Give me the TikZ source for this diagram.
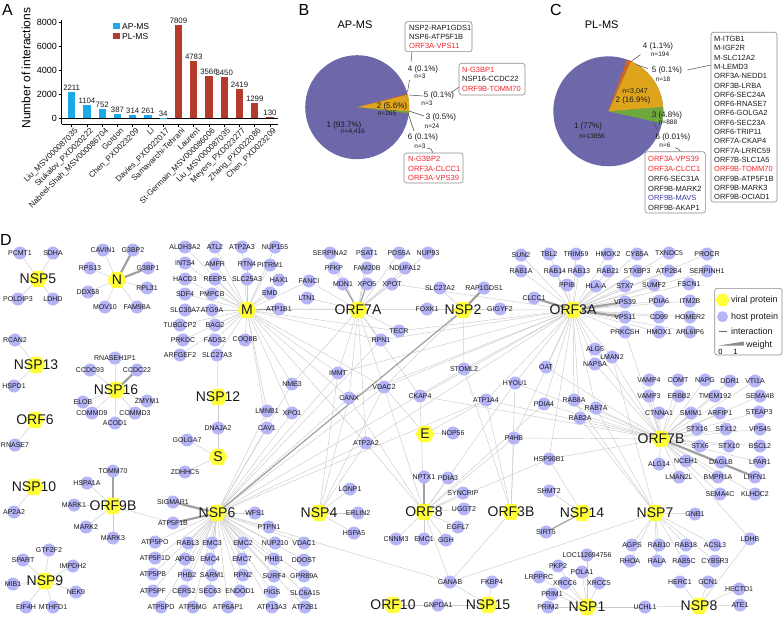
\documentclass[tikz,border=0pt]{standalone}
\usepackage{fontspec}
\setmainfont{Liberation Sans}
\usetikzlibrary{shapes.geometric}
\pgfdeclarelayer{bg}
\pgfsetlayers{bg,main}
\definecolor{hostc}{HTML}{B4B4F6}
\definecolor{virc}{HTML}{FFFF3A}
\definecolor{edgec}{HTML}{CBCBCB}
\definecolor{wedgec}{HTML}{A0A0A0}
\definecolor{apc}{HTML}{1CA9EA}
\definecolor{plc}{HTML}{B43B2D}
\definecolor{pieA}{HTML}{6C68AA}
\definecolor{pieB}{HTML}{DEA51C}
\definecolor{pieC}{HTML}{6DA83C}
\definecolor{pieD}{HTML}{D4631D}
\definecolor{redt}{HTML}{F0262C}
\definecolor{bluet}{HTML}{3B3BA6}
\definecolor{boxc}{HTML}{8A8A8A}
\definecolor{txt}{HTML}{1A1A1A}
\tikzset{
 host/.style={circle,fill=hostc,minimum size=13pt,inner sep=0pt},
 hlab/.style={font=\fontsize{7}{8}\selectfont,inner sep=0pt,text=txt},
 vir/.style={regular polygon,regular polygon sides=6,fill=virc,minimum size=19pt,inner sep=0pt},
 vlab/.style={font=\fontsize{14}{16}\selectfont,inner sep=0pt,text=txt},
 ed/.style={draw=edgec,line width=0.45pt},
 wd/.style={draw=wedgec,line width=2.2pt},
 md/.style={draw=wedgec,line width=1.2pt},
 panel/.style={font=\fontsize{16}{18}\selectfont,inner sep=0pt},
 axisl/.style={draw=black,line width=0.8pt},
 ticklab/.style={font=\fontsize{9}{10}\selectfont,anchor=east,inner sep=0pt},
 vallab/.style={font=\fontsize{7.8}{9}\selectfont,anchor=south,inner sep=1.2pt,text=txt},
 xlab/.style={font=\fontsize{8}{9}\selectfont,rotate=45,anchor=north east,inner sep=0.5pt,text=txt},
 pct/.style={font=\fontsize{8}{9}\selectfont,inner sep=0pt,text=txt},
 ncount/.style={font=\fontsize{6.5}{7}\selectfont,inner sep=0pt,text=txt},
 ptitle/.style={font=\fontsize{11}{12}\selectfont,inner sep=0pt},
 lbox/.style={draw=boxc,line width=0.6pt,rounded corners=2.5pt},
 btxt/.style={font=\fontsize{7.5}{8}\selectfont,anchor=west,inner sep=0pt,text=txt},
 lead/.style={draw=black!70,line width=0.5pt},
 legt/.style={font=\fontsize{9}{10}\selectfont,anchor=west,inner sep=0pt,text=txt},
}
\newcommand\hostnode[3]{\node[host,label={[hlab]center:#3}] (#1) at (#2) {};}
\newcommand\virnode[3]{\node[vir] (#1) at (#2) {}; \node[vlab] (#1t) at (#2) {#3};}
\newcommand\hubedges[2]{\foreach \hh in {#2} {\draw[ed] (#1.center) -- (\hh.center);}}
\begin{document}
\begin{tikzpicture}[x=1pt,y=-1pt]
\useasboundingbox (0,0) rectangle (784,618);
% ================= Panel A =================
\node[panel] (pA) at (7.5,9.5) {A};
\draw[axisl] (61.7,20) -- (61.7,124);
\draw[draw=black,line width=0.6pt] (61.7,118.3) -- (278,118.3);
\draw[axisl] (61.7,124) -- (278,124);
\foreach \t [count=\k] in {0,2000,4000,6000,8000}{
  \pgfmathsetmacro\ty{118.3-0.012*\t}
  \draw[axisl] (58.5,\ty) -- (61.7,\ty);
  \node[ticklab] (tk\k) at (57,\ty) {\t};
}
\node[font=\fontsize{12}{13}\selectfont,rotate=90,inner sep=0pt] (ylab) at (26,68) {Number of interactions};
\foreach \v/\nm/\cl [count=\i] in {2211/Liu\_MSV000087035/apc,1104/Stukalov\_PXD020222/apc,752/Nabeel-Shah\_MSV000086704/apc,387/Gordon/apc,314/Chen\_PXD023209/apc,261/Li/apc,34/Davies\_PXD022017/apc,7809/Samavarchi-Tehrani/plc,4783/Laurent/plc,3566/St-Germain\_MSV000086006/plc,3450/Liu\_MSV000087035/plc,2419/Meyers\_PXD023277/plc,1299/Zhang\_PXD022086/plc,130/Chen\_PXD023209/plc}{
  \pgfmathsetmacro\cx{71.7+15.25*(\i-1)}
  \pgfmathsetmacro\bt{118.3-0.012*\v}
  \fill[\cl] (\cx-3.6,118.3) rectangle (\cx+3.6,\bt);
  \node[vallab] (val\i) at (\cx,\bt) {\v};
  \draw[axisl] (\cx,124) -- (\cx,127);
  \node[xlab] (xl\i) at (\cx+2.5,126.5) {\nm};
}
\fill[apc] (113,23) rectangle (120,29.5);
\node[font=\fontsize{8.5}{9}\selectfont,anchor=west,inner sep=0pt] (lgap) at (122,26.5) {AP-MS};
\fill[plc] (113,33) rectangle (120,39.5);
\node[font=\fontsize{8.5}{9}\selectfont,anchor=west,inner sep=0pt] (lgpl) at (122,36.5) {PL-MS};
% ================= Panel B =================
\node[panel] (pB) at (304,9.5) {B};
\node[ptitle] (tB) at (355,25) {AP-MS};
\coordinate (bpc) at (357.2,107.2);
\fill[pieA] (bpc) circle (52);
\fill[pieB] (bpc) -- ++(4.8:52) arc[start angle=4.8,end angle=-14.1,radius=52] -- cycle;
\fill[pieC] (bpc) -- ++(6.6:52) arc[start angle=6.6,end angle=4.8,radius=52] -- cycle;
\fill[pieD] (bpc) -- ++(-14.1:52) arc[start angle=-14.1,end angle=-14.9,radius=52] -- cycle;
\fill[pieD!50!pieC] (bpc) -- ++(7.0:52) arc[start angle=7.0,end angle=6.6,radius=52] -- cycle;
\node[pct] (b2) at (392,106.5) {2 (5.6\%)};
\node[ncount] (b2n) at (387,113) {n=265};
\node[pct] (b1) at (344,125) {1 (93.7\%)};
\node[ncount] (b1n) at (353,131.7) {n=4,416};
\node[pct] (b4) at (423,69) {4 (0.1\%)};
\node[ncount] (b4n) at (420,76) {n=3};
\node[pct] (b5) at (439,95) {5 (0.1\%)};
\node[ncount] (b5n) at (427,103) {n=3};
\node[pct] (b3) at (441,117) {3 (0.5\%)};
\node[ncount] (b3n) at (432,126) {n=24};
\node[pct] (b6) at (423,137) {6 (0.1\%)};
\node[ncount] (b6n) at (420,146) {n=3};
\draw[lead] (407.5,92) -- (409.5,80);
\draw[lead] (412,52) -- (411,62);
\draw[lead] (409,95) -- (423,96);
\draw[lead] (451,93) -- (459,87);
\draw[lead] (409,111) -- (424,116);
\draw[lead] (408,113) -- (414,131);
\draw[lead] (427,148) -- (431,149) -- (433,153);
\draw[lbox] (405,21.7) rectangle (472,51.7);
\node[btxt] (b4a) at (409,27.7) {NSP2-RAP1GDS1};
\node[btxt] (b4b) at (409,37) {NSP6-ATP5F1B};
\node[btxt,text=redt] (b4c) at (409,46.3) {ORF3A-VPS11};
\draw[lbox] (459,63.3) rectangle (525,95);
\node[btxt,text=redt] (b5a) at (462,70) {N-G3BP1};
\node[btxt] (b5b) at (462,79.3) {NSP16-CCDC22};
\node[btxt,text=redt] (b5c) at (462,88.5) {ORF9B-TOMM70};
\draw[lbox] (404,153) rectangle (463,183);
\node[btxt,text=redt] (b6a) at (408,159) {N-G3BP2};
\node[btxt,text=redt] (b6b) at (408,168.5) {ORF3A-CLCC1};
\node[btxt,text=redt] (b6c) at (408,178) {ORF3A-VPS39};
% ================= Panel C =================
\node[panel] (pC) at (556,9.5) {C};
\node[ptitle] (tC) at (601.7,25) {PL-MS};
\coordinate (cpc) at (608.3,111.3);
\fill[pieA] (cpc) circle (55);
\fill[pieC] (cpc) -- ++(12.6:55) arc[start angle=12.6,end angle=-4.7,radius=55] -- cycle;
\fill[pieB] (cpc) -- ++(-4.7:55) arc[start angle=-4.7,end angle=-65.7,radius=55] -- cycle;
\fill[pieD] (cpc) -- ++(-66.1:55) arc[start angle=-66.1,end angle=-70.1,radius=55] -- cycle;
\node[pct] (c4) at (658,46.7) {4 (1.1\%)};
\node[ncount] (c4n) at (660,54.3) {n=194};
\node[pct] (c5) at (667,70) {5 (0.1\%)};
\node[ncount] (c5n) at (663,79) {n=18};
\node[ncount,font=\fontsize{7}{8}\selectfont] (c2n) at (635,91.7) {n=3,047};
\node[pct] (c2) at (633,100) {2 (16.9\%)};
\node[pct] (c3) at (667,115) {3 (4.8\%)};
\node[ncount] (c3n) at (668,122.7) {n=888};
\node[pct] (c1) at (588,126) {1 (77\%)};
\node[ncount] (c1n) at (592,136.7) {n=13856};
\node[pct] (c6) at (673,137.7) {6 (0.01\%)};
\node[ncount] (c6n) at (665,145.7) {n=6};
\draw[lead] (630.5,62) -- (640.5,54.5);
\draw[lead] (636,64.5) -- (647.5,68.5);
\draw[lead] (687.5,70) -- (711,65);
\draw[lead] (654,123) -- (657.5,130.5);
\draw[lead] (675,147.5) -- (679,149.5) -- (680.5,151.7);
\draw[lbox] (711,32.3) rectangle (777,202);
\foreach \t/\c [count=\i] in {M-ITGB1/txt,M-IGF2R/txt,M-SLC12A2/txt,M-LEMD3/txt,ORF3A-NEDD1/txt,ORF3B-LRBA/txt,ORF6-SEC24A/txt,ORF6-RNASE7/txt,ORF6-GOLGA2/txt,ORF6-SEC23A/txt,ORF6-TRIP11/txt,ORF7A-CKAP4/txt,ORF7A-LRRC59/txt,ORF7B-SLC1A5/txt,ORF9B-TOMM70/redt,ORF9B-ATP5F1B/txt,ORF9B-MARK3/txt,ORF9B-OCIAD1/txt}{
  \node[btxt,text=\c] (cf\i) at (714,{39+9.3*(\i-1)}) {\t};
}
\draw[lbox] (645,151.7) rectangle (705.3,213);
\foreach \t/\c [count=\i] in {ORF3A-VPS39/redt,ORF3A-CLCC1/redt,ORF6-SEC31A/txt,ORF9B-MARK2/txt,ORF9B-MAVS/bluet,ORF9B-AKAP1/txt}{
  \node[btxt,text=\c] (cs\i) at (648,{159+9.85*(\i-1)}) {\t};
}
% ================= Panel D =================
\node[panel] (pD) at (6,240) {D};
% --- host proteins
\hostnode{pcmt1}{20,253}{PCMT1}
\hostnode{sdha}{53,253}{SDHA}
\hostnode{poldip3}{18,299}{POLDIP3}
\hostnode{ldhd}{53,299}{LDHD}
\hostnode{cavin1}{103,250}{CAVIN1}
\hostnode{gbptwo}{133,250}{G3BP2}
\hostnode{gbpone}{148,268}{G3BP1}
\hostnode{rps13}{90,268}{RPS13}
\hostnode{rpl31}{147,288}{RPL31}
\hostnode{ddx58}{88,292}{DDX58}
\hostnode{mov10}{105,307}{MOV10}
\hostnode{fam98a}{137,307}{FAM98A}
\hostnode{aldh3a2}{185,247}{ALDH3A2}
\hostnode{atl2}{215,247}{ATL2}
\hostnode{atp2a3}{242,247}{ATP2A3}
\hostnode{nup155}{275,247}{NUP155}
\hostnode{ints4}{185,263}{INTS4}
\hostnode{amfr}{215,264}{AMFR}
\hostnode{rtn4}{247,264}{RTN4}
\hostnode{pitrm1}{270,265}{PITRM1}
\hostnode{hacd3}{185,279}{HACD3}
\hostnode{reep5}{215,279}{REEP5}
\hostnode{slc25a3}{247,279}{SLC25A3}
\hostnode{hax1}{279,280}{HAX1}
\hostnode{sdf4}{185,294}{SDF4}
\hostnode{pmpcb}{212,294}{PMPCB}
\hostnode{emd}{270,293}{EMD}
\hostnode{slc30a7}{185,310}{SLC30A7}
\hostnode{atg9a}{212,310}{ATG9A}
\hostnode{atp1b1}{279,309}{ATP1B1}
\hostnode{tubgcp2}{180,325}{TUBGCP2}
\hostnode{bag2}{215,325}{BAG2}
\hostnode{prkdc}{183,340}{PRKDC}
\hostnode{fads2}{215,340}{FADS2}
\hostnode{coq8b}{245,340}{COQ8B}
\hostnode{arfgef2}{180,355}{ARFGEF2}
\hostnode{slc27a3}{217,355}{SLC27A3}
\hostnode{serpina2}{330,253}{SERPINA2}
\hostnode{psat1}{367,253}{PSAT1}
\hostnode{pds5a}{399,253}{PDS5A}
\hostnode{nup93}{428,253}{NUP93}
\hostnode{pfkp}{334,268}{PFKP}
\hostnode{fam20b}{367,268}{FAM20B}
\hostnode{ndufa12}{405,268}{NDUFA12}
\hostnode{fanci}{309,281}{FANCI}
\hostnode{mdn1}{343,284}{MDN1}
\hostnode{xpo5}{367,284}{XPO5}
\hostnode{xpot}{392,284}{XPOT}
\hostnode{ltn1}{307,298}{LTN1}
\hostnode{tecr}{399,331}{TECR}
\hostnode{slc27a2}{440,288}{SLC27A2}
\hostnode{rap1gds1}{484,288}{RAP1GDS1}
\hostnode{foxk1}{427,309}{FOXK1}
\hostnode{gigyf2}{500,309}{GIGYF2}
\hostnode{sun2}{521,255}{SUN2}
\hostnode{tbl2}{549,254}{TBL2}
\hostnode{trim59}{576,254}{TRIM59}
\hostnode{hmox2}{608,254}{HMOX2}
\hostnode{cyb5a}{637,254}{CYB5A}
\hostnode{txndc5}{669,253}{TXNDC5}
\hostnode{procr}{707,254}{PROCR}
\hostnode{rab1a}{521,271}{RAB1A}
\hostnode{rab14}{555,271}{RAB14}
\hostnode{rab13}{579,271}{RAB13}
\hostnode{rab21}{608,271}{RAB21}
\hostnode{stxbp3}{637,271}{STXBP3}
\hostnode{atp2b4}{669,271}{ATP2B4}
\hostnode{serpinh1}{707,271}{SERPINH1}
\hostnode{ppib}{567,285}{PPIB}
\hostnode{hlaa}{596,286}{HLA-A}
\hostnode{stx7}{625,286}{STX7}
\hostnode{sumf2}{654,285}{SUMF2}
\hostnode{fscn1}{689,284}{FSCN1}
\hostnode{clcc1}{534,298}{CLCC1}
\hostnode{vps39}{625,302}{VPS39}
\hostnode{pdia6}{659,301}{PDIA6}
\hostnode{itm2b}{690,301}{ITM2B}
\hostnode{vps11}{625,317}{VPS11}
\hostnode{cd99}{659,317}{CD99}
\hostnode{homer2}{690,317}{HOMER2}
\hostnode{prkcsh}{625,332}{PRKCSH}
\hostnode{hmox1}{659,332}{HMOX1}
\hostnode{arl6ip6}{690,332}{ARL6IP6}
\hostnode{rpn1}{381,340}{RPN1}
\hostnode{immt}{338,373}{IMMT}
\hostnode{stoml2}{464,369}{STOML2}
\hostnode{nme3}{292,384}{NME3}
\hostnode{vdac2}{384,387}{VDAC2}
\hostnode{hyou1}{515,383}{HYOU1}
\hostnode{ckap4}{420,396}{CKAP4}
\hostnode{atp1a4}{486,400}{ATP1A4}
\hostnode{canx}{349,398}{CANX}
\hostnode{lmnb1}{267,411}{LMNB1}
\hostnode{xpo1}{292,413}{XPO1}
\hostnode{cav1}{267,428}{CAV1}
\hostnode{nop56}{453,433}{NOP56}
\hostnode{p4hb}{514,438}{P4HB}
\hostnode{atp2a2}{366,443}{ATP2A2}
\hostnode{alg5}{595,349}{ALG5}
\hostnode{lman2}{612,357}{LMAN2}
\hostnode{napsa}{595,364}{NAPSA}
\hostnode{oat}{546,367}{OAT}
\hostnode{rab8a}{574,400}{RAB8A}
\hostnode{pdia4}{544,404}{PDIA4}
\hostnode{rab7a}{596,408}{RAB7A}
\hostnode{rab2a}{580,418}{RAB2A}
\hostnode{hsp90b1}{549,459}{HSP90B1}
\hostnode{shmt2}{549,491}{SHMT2}
\hostnode{sirt5}{546,532}{SIRT5}
\hostnode{vamp4}{649,380}{VAMP4}
\hostnode{comt}{678,380}{COMT}
\hostnode{napg}{705,380}{NAPG}
\hostnode{ddr1}{730,381}{DDR1}
\hostnode{vti1a}{755,381}{VTI1A}
\hostnode{vamp3}{649,396}{VAMP3}
\hostnode{erbb2}{679,396}{ERBB2}
\hostnode{tmem192}{715,396}{TMEM192}
\hostnode{sema4b}{760,396}{SEMA4B}
\hostnode{ctnna1}{659,413}{CTNNA1}
\hostnode{smim1}{691,413}{SMIM1}
\hostnode{arfip1}{720,413}{ARFIP1}
\hostnode{steap3}{759,412}{STEAP3}
\hostnode{stx16}{697,429}{STX16}
\hostnode{stx12}{726,429}{STX12}
\hostnode{vps45}{760,429}{VPS45}
\hostnode{stx6}{700,446}{STX6}
\hostnode{stx10}{729,446}{STX10}
\hostnode{bscl2}{760,446}{BSCL2}
\hostnode{alg14}{659,464}{ALG14}
\hostnode{nceh1}{686,461}{NCEH1}
\hostnode{daglb}{721,462}{DAGLB}
\hostnode{lpar1}{760,462}{LPAR1}
\hostnode{lman2l}{679,477}{LMAN2L}
\hostnode{bmpr1a}{718,477}{BMPR1A}
\hostnode{lrfn1}{755,477}{LRFN1}
\hostnode{sema4c}{720,494}{SEMA4C}
\hostnode{klhdc2}{755,494}{KLHDC2}
\hostnode{rcan2}{15,340}{RCAN2}
\hostnode{hspd1}{14,386}{HSPD1}
\hostnode{rnaseh1p1}{115,358}{RNASEH1P1}
\hostnode{ccdc93}{90,370}{CCDC93}
\hostnode{ccdc22}{137,370}{CCDC22}
\hostnode{elob}{83,402}{ELOB}
\hostnode{zmym1}{147,401}{ZMYM1}
\hostnode{commd9}{92,413}{COMMD9}
\hostnode{commd3}{135,413}{COMMD3}
\hostnode{acod1}{115,423}{ACOD1}
\hostnode{rnase7}{15,445}{RNASE7}
\hostnode{dnaja2}{218,428}{DNAJA2}
\hostnode{golga7}{187,440}{GOLGA7}
\hostnode{zdhhc5}{185,472}{ZDHHC5}
\hostnode{tomm70}{113,471}{TOMM70}
\hostnode{hspa1a}{87,483}{HSPA1A}
\hostnode{ap2a2}{14,512}{AP2A2}
\hostnode{mark1}{74,505}{MARK1}
\hostnode{mark2}{86,527}{MARK2}
\hostnode{mark3}{113,538}{MARK3}
\hostnode{gtf2f2}{49,550}{GTF2F2}
\hostnode{spart}{23,560}{SPART}
\hostnode{impdh2}{73,566}{IMPDH2}
\hostnode{mib1}{13,584}{MIB1}
\hostnode{nek9}{76,592}{NEK9}
\hostnode{eif4h}{26,607}{EIF4H}
\hostnode{mthfd1}{53,607}{MTHFD1}
\hostnode{sigmar1}{173,502}{SIGMAR1}
\hostnode{wfs1}{255,513}{WFS1}
\hostnode{atp5f1b}{173,523}{ATP5F1B}
\hostnode{ptpn1}{269,527}{PTPN1}
\hostnode{atp5po}{155,542}{ATP5PO}
\hostnode{rabl3}{188,543}{RABL3}
\hostnode{emc3}{212,543}{EMC3}
\hostnode{emc2}{243,543}{EMC2}
\hostnode{nup210}{275,543}{NUP210}
\hostnode{vdac1}{304,543}{VDAC1}
\hostnode{atp5f1d}{155,558}{ATP5F1D}
\hostnode{apob}{185,559}{APOB}
\hostnode{emc4}{210,559}{EMC4}
\hostnode{emc7}{242,559}{EMC7}
\hostnode{phb1}{274,559}{PHB1}
\hostnode{ddost}{304,560}{DDOST}
\hostnode{atp5pb}{153,574}{ATP5PB}
\hostnode{phb2}{187,575}{PHB2}
\hostnode{sarm1}{212,575}{SARM1}
\hostnode{rpn2}{243,575}{RPN2}
\hostnode{surf4}{274,576}{SURF4}
\hostnode{gpr89a}{304,576}{GPR89A}
\hostnode{atp5pf}{153,591}{ATP5PF}
\hostnode{cers2}{184,591}{CERS2}
\hostnode{sec63}{210,591}{SEC63}
\hostnode{endod1}{240,591}{ENDOD1}
\hostnode{pigs}{272,592}{PIGS}
\hostnode{slc6a15}{305,593}{SLC6A15}
\hostnode{atp5pd}{161,607}{ATP5PD}
\hostnode{atp5mg}{193,607}{ATP5MG}
\hostnode{atp6ap1}{228,607}{ATP6AP1}
\hostnode{atp13a3}{272,607}{ATP13A3}
\hostnode{atp2b1}{305,607}{ATP2B1}
\hostnode{lonp1}{350,489}{LONP1}
\hostnode{erlin2}{358,513}{ERLIN2}
\hostnode{hspa5}{354,533}{HSPA5}
\hostnode{nptx1}{424,477}{NPTX1}
\hostnode{pdia3}{448,478}{PDIA3}
\hostnode{syncrip}{463,493}{SYNCRIP}
\hostnode{uggt2}{464,509}{UGGT2}
\hostnode{egfl7}{458,527}{EGFL7}
\hostnode{cnnm3}{396,539}{CNNM3}
\hostnode{emc1}{424,539}{EMC1}
\hostnode{ggh}{446,540}{GGH}
\hostnode{ganab}{450,582}{GANAB}
\hostnode{fkbp4}{492,582}{FKBP4}
\hostnode{gnpda1}{438,605}{GNPDA1}
\hostnode{gnb1}{695,514}{GNB1}
\hostnode{ldhb}{750,539}{LDHB}
\hostnode{agps}{632,545}{AGPS}
\hostnode{rab10}{659,545}{RAB10}
\hostnode{rab18}{686,545}{RAB18}
\hostnode{acsl3}{715,545}{ACSL3}
\hostnode{rhoa}{630,561}{RHOA}
\hostnode{rala}{657,561}{RALA}
\hostnode{rab5c}{684,561}{RAB5C}
\hostnode{cyb5r3}{715,561}{CYB5R3}
\hostnode{loc}{587,555}{LOC112694756}
\hostnode{pkp2}{558,566}{PKP2}
\hostnode{pola1}{582,572}{POLA1}
\hostnode{lrpprc}{539,577}{LRPPRC}
\hostnode{xrcc6}{565,583}{XRCC6}
\hostnode{xrcc5}{599,583}{XRCC5}
\hostnode{prim1}{552,594}{PRIM1}
\hostnode{prim2}{548,607}{PRIM2}
\hostnode{uchl1}{645,607}{UCHL1}
\hostnode{herc1}{680,582}{HERC1}
\hostnode{gcn1}{708,582}{GCN1}
\hostnode{hectd1}{739,589}{HECTD1}
\hostnode{ate1}{740,605}{ATE1}
% --- viral proteins
\virnode{vnsp5}{38,279}{NSP5}
\virnode{vn}{117,280}{N}
\virnode{vm}{247,310}{M}
\virnode{vorf7a}{358,310}{ORF7A}
\virnode{vnsp2}{463,310}{NSP2}
\virnode{vorf3a}{573,310}{ORF3A}
\virnode{vnsp13}{36,365}{NSP13}
\virnode{vnsp16}{116,390}{NSP16}
\virnode{vorf6}{35,420}{ORF6}
\virnode{vnsp12}{218,397}{NSP12}
\virnode{vs}{218,457}{S}
\virnode{ve}{425,434}{E}
\virnode{vorf7b}{661,439}{ORF7B}
\virnode{vnsp10}{34,487}{NSP10}
\virnode{vorf9b}{113,506}{ORF9B}
\virnode{vnsp6}{217,513}{NSP6}
\virnode{vnsp9}{45,581}{NSP9}
\virnode{vnsp4}{319,513}{NSP4}
\virnode{vorf8}{424,512}{ORF8}
\virnode{vorf3b}{511,512}{ORF3B}
\virnode{vnsp14}{582,513}{NSP14}
\virnode{vnsp7}{655,513}{NSP7}
\virnode{vorf10}{393,605}{ORF10}
\virnode{vnsp15}{488,605}{NSP15}
\virnode{vnsp1}{587,607}{NSP1}
\virnode{vnsp8}{699,606}{NSP8}
% --- edges
\begin{pgfonlayer}{bg}
\hubedges{vnsp5}{pcmt1,sdha,poldip3,ldhd}
\hubedges{vn}{cavin1,rps13,rpl31,ddx58,mov10,fam98a}
\hubedges{vm}{aldh3a2,atl2,atp2a3,nup155,ints4,amfr,rtn4,pitrm1,hacd3,reep5,slc25a3,hax1,sdf4,pmpcb,emd,slc30a7,atg9a,tubgcp2,bag2,prkdc,fads2,coq8b,arfgef2,slc27a3,fanci,lmnb1,cav1,nme3,xpo1,immt,canx,vdac2,atp2a2,rpn1,tecr}
\hubedges{vnsp12}{slc27a3,dnaja2}
\hubedges{vs}{dnaja2,golga7,zdhhc5}
\hubedges{vorf7a}{serpina2,psat1,pds5a,nup93,pfkp,fam20b,ndufa12,fanci,xpot,ltn1,tecr,atp1b1,canx,vdac2,immt,rpn1,atp2a2,ckap4,nme3}
\hubedges{vnsp2}{slc27a2,foxk1,gigyf2,vdac2,stoml2}
\hubedges{vorf3a}{sun2,tbl2,trim59,hmox2,cyb5a,txndc5,procr,rab1a,rab14,rab13,rab21,stxbp3,atp2b4,serpinh1,ppib,hlaa,stx7,sumf2,fscn1,pdia6,itm2b,cd99,homer2,prkcsh,hmox1,arl6ip6,alg5,lman2,napsa,oat,rab8a,rab7a,rab2a,pdia4,hyou1,stoml2,atp1a4,p4hb,hsp90b1,vdac2,canx,ckap4,tecr,rpn1,atp2a2,atp1b1,xpot,immt}
\hubedges{vorf7b}{vamp4,comt,napg,ddr1,vti1a,vamp3,erbb2,tmem192,sema4b,ctnna1,smim1,arfip1,steap3,stx16,stx12,vps45,stx6,stx10,bscl2,alg14,nceh1,daglb,lpar1,lman2l,bmpr1a,sema4c,klhdc2,ldhb,rab8a,rab7a,rab2a,pdia4,oat,hyou1,p4hb,atp1a4,lman2,alg5,napsa,hsp90b1,prkcsh,ckap4}
\hubedges{vnsp6}{wfs1,ptpn1,atp5po,rabl3,emc3,emc2,nup210,vdac1,atp5f1d,apob,emc4,emc7,phb1,ddost,atp5pb,phb2,sarm1,rpn2,surf4,gpr89a,atp5pf,cers2,sec63,endod1,pigs,slc6a15,atp5pd,atp5mg,atp6ap1,atp13a3,atp2b1,lmnb1,cav1,xpo1,nme3,immt,canx,vdac2,atp2a2,rpn1,ganab,stoml2,atp1a4}
\hubedges{vorf9b}{hspa1a,mark1,mark2,mark3,atp5f1b}
\hubedges{vnsp9}{gtf2f2,spart,impdh2,mib1,nek9,eif4h,mthfd1}
\hubedges{vnsp10}{ap2a2}
\hubedges{vnsp13}{rcan2,hspd1}
\hubedges{vorf6}{rnase7}
\hubedges{vnsp16}{rnaseh1p1,ccdc93,elob,zmym1,commd9,commd3,acod1}
\hubedges{vnsp4}{lonp1,erlin2,hspa5,atp2a2,canx,vdac2,immt}
\hubedges{vorf8}{pdia3,syncrip,uggt2,egfl7,cnnm3,emc1,ggh,ganab,canx,atp2a2,p4hb,hyou1,pdia4,hsp90b1,ckap4,vdac2}
\hubedges{vorf3b}{p4hb,atp1a4,stoml2,ganab,hyou1}
\hubedges{ve}{nop56,vdac2,atp1a4}
\hubedges{vnsp14}{shmt2,hsp90b1}
\hubedges{vnsp7}{gnb1,agps,rab10,rab18,acsl3,rhoa,rala,rab5c,cyb5r3,ganab,rab8a,rab7a,rab2a,lman2}
\hubedges{vnsp8}{herc1,gcn1,hectd1,ate1,ldhb,uchl1}
\hubedges{vnsp1}{loc,pkp2,pola1,lrpprc,xrcc6,xrcc5,prim1,prim2,uchl1}
\hubedges{vnsp15}{ganab,fkbp4,gnpda1}
\hubedges{vorf10}{gnpda1}
\foreach \a/\b in {vn/gbptwo,vn/gbpone,vnsp16/ccdc22,vorf9b/tomm70,vorf3a/clcc1,vorf3a/vps39,vorf3a/vps11,vnsp2/rap1gds1,vnsp6/atp5f1b,vnsp6/sigmar1,vorf7b/lrfn1}
  {\draw[wd] (\a.center) -- (\b.center);}
\foreach \a/\b in {vnsp2/vnsp6,vorf8/nptx1,vorf7a/xpo5,vorf7a/mdn1,vm/atp1b1,vnsp14/sirt5}
  {\draw[md] (\a.center) -- (\b.center);}
\end{pgfonlayer}
% --- legend
\draw[lbox] (714.7,288.3) rectangle (782,355);
\node[vir,minimum size=14pt] (lgv) at (722.5,300) {};
\node[legt] (lgvt) at (731,300) {viral protein};
\node[host,minimum size=11pt] (lgh) at (722.5,316.7) {};
\node[legt] (lght) at (731,316.7) {host protein};
\coordinate (lgi1) at (718.5,331.7);
\coordinate (lgi2) at (726.5,331.7);
\draw[draw=black!60,line width=1.2pt] (lgi1) -- (lgi2);
\node[legt] (lgit) at (731,331.5) {interaction};
\fill[black!45] (719,345.5) -- (744,341.5) -- (744,345.5) -- cycle;
\node[legt] (lgwt) at (746,345) {weight};
\node[font=\fontsize{7.5}{8}\selectfont,inner sep=0pt] (lg0) at (720.5,351.5) {0};
\node[font=\fontsize{7.5}{8}\selectfont,inner sep=0pt] (lg1) at (735.5,351.5) {1};
\end{tikzpicture}
\end{document}
